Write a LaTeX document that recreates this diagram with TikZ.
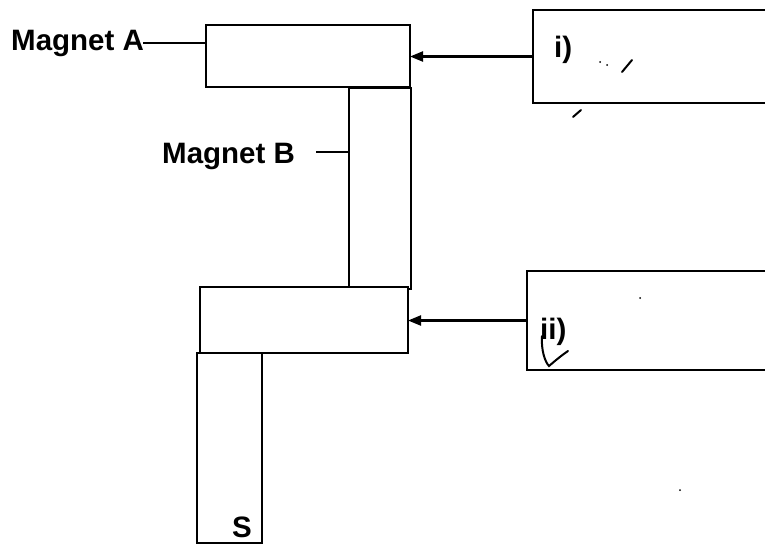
\documentclass[tikz,border=0pt]{standalone}
\usepackage{fontspec}
\setmainfont{Liberation Sans}
\usetikzlibrary{arrows.meta}
\begin{document}
\begin{tikzpicture}[x=1pt,y=-1pt,
  box/.style={draw, line width=2.4pt, minimum width=#1, anchor=north west, inner sep=0pt, outer sep=0pt},
  openbox/.style={anchor=north west, inner sep=0pt, outer sep=0pt},
  lbl/.style={font=\fontsize{29.5}{34}\selectfont\bfseries, inner sep=1pt},
  thinline/.style={line width=2.2pt},
  arr/.style={line width=2.2pt, -{Triangle[length=13pt,width=10pt]}},
  scrib/.style={line width=2pt, line cap=round}]
\useasboundingbox (0,0) rectangle (765,550);
% magnets
\node[box=62pt, minimum height=201pt] (mb) at (349,88) {};
\node[box=204pt, minimum height=62pt, fill=white] (ma) at (206,25) {};
\node[box=65pt, minimum height=190pt] (ms) at (197,353) {};
\node[box=208pt, minimum height=66pt, fill=white] (mc) at (200,287) {};
% open boxes on the right (they run off the right edge)
\node[openbox, minimum width=232pt, minimum height=93pt] (bi) at (533,10) {};
\node[openbox, minimum width=238pt, minimum height=99pt] (bii) at (527,271) {};
\draw[thinline] (bi.north east) -- (bi.north west) -- (bi.south west) -- (bi.south east);
\draw[thinline] (bii.north east) -- (bii.north west) -- (bii.south west) -- (bii.south east);
% labels
\node[lbl, anchor=base west] (la) at (10,50) {Magnet A};
\node[lbl, anchor=base west] (lb) at (161,163) {Magnet B};
\node[lbl, anchor=base west] (ti) at (553,57) {i)};
\node[lbl, anchor=base west] (tii) at (539,339) {ii)};
\node[lbl, anchor=base west] (ts) at (231,537) {S};
% connectors
\coordinate (pa) at (143,43);
\coordinate (pb) at (316,152);
\draw[thinline] (pa) -- (pa -| ma.west);
\draw[thinline] (pb) -- (pb -| mb.west);
\draw[arr] (bi.west) -- (bi.west -| ma.east);
\draw[arr] (bii.west) -- (bii.west -| mc.east);
% handwritten marks
\draw[scrib] (622,72) -- (632,60);
\fill (600,62) circle (1pt) (607,65) circle (1pt);
\draw[scrib] (573,117) -- (581,110);
\draw[scrib] (542,336) .. controls (541,350) and (545,362) .. (549,366) .. controls (556,360) and (562,355) .. (568,351);
\fill (640,298) circle (1pt);
\fill (680,490) circle (1pt);
\end{tikzpicture}
\end{document}
